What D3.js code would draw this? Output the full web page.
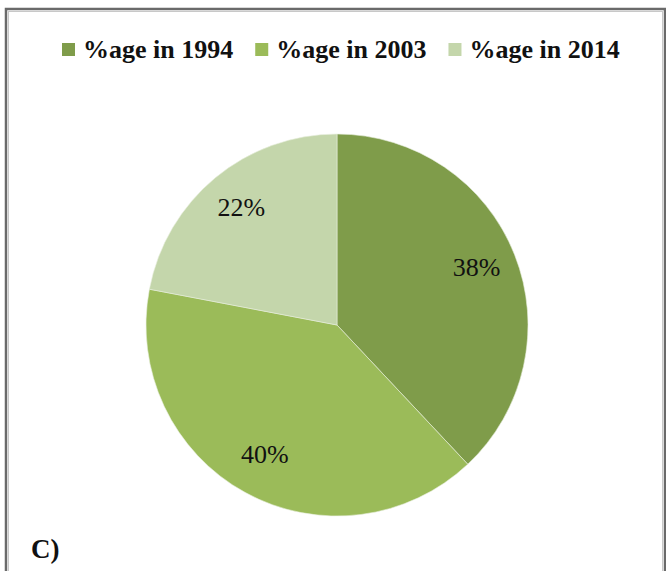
<!DOCTYPE html>
<html>
<head>
<meta charset="utf-8">
<script src="https://cdn.jsdelivr.net/npm/d3@7"></script>
<style>
  body { margin: 0; background: #fff; }
  svg { display: block; }
  svg text { font-family: "Liberation Serif", "Times New Roman", serif; fill: #111; }
</style>
</head>
<body>
<script>
// data
const categories = ["%age in 1994", "%age in 2003", "%age in 2014"];
const values = [38, 40, 22];
const colors = ["#7f9c4a", "#9bbb59", "#c4d6ab"];

const width = 666, height = 571;
const cx = 337, cy = 325, radius = 191;

const svg = d3.select("body")
    .append("svg")
    .attr("width", width)
    .attr("height", height);

// frame around the chart
svg.append("rect")
    .attr("x", 6).attr("y", 9)
    .attr("width", 659).attr("height", 620)
    .attr("fill", "none")
    .attr("stroke", "#6a6a6a")
    .attr("stroke-width", 2.5);
svg.append("rect")
    .attr("x", 8.5).attr("y", 11.5)
    .attr("width", 654).attr("height", 615)
    .attr("fill", "none")
    .attr("stroke", "#c8c8c8")
    .attr("stroke-width", 1);

const pie = d3.pie().sort(null).value(d => d);
const arc = d3.arc().innerRadius(0).outerRadius(radius);
const labelArc = d3.arc().innerRadius(150).outerRadius(150);

const color = d3.scaleOrdinal().domain(categories).range(colors);

const g = svg.append("g")
    .attr("transform", `translate(${cx},${cy})`);

const arcs = pie(values);

g.selectAll("path")
    .data(arcs)
    .join("path")
    .attr("d", arc)
    .attr("fill", (d, i) => color(categories[i]))
    .attr("stroke", "#e8eedd")
    .attr("stroke-width", 0.6);

g.selectAll("text")
    .data(arcs)
    .join("text")
    .attr("transform", d => `translate(${labelArc.centroid(d)})`)
    .attr("text-anchor", "middle")
    .attr("dy", "0.25em")
    .style("font-size", "26px")
    .text(d => d.value + "%");

// legend across the top
const legend = svg.append("g");

let lx = 62;
categories.forEach((c, i) => {
    legend.append("rect")
        .attr("x", lx).attr("y", 43)
        .attr("width", 13).attr("height", 13)
        .attr("fill", color(c));
    const t = legend.append("text")
        .attr("x", lx + 21).attr("y", 58)
        .style("font-weight", "bold")
        .style("font-size", "26px")
        .text(c);
    lx += 21 + t.node().getComputedTextLength() + 22;
});

// panel letter
svg.append("text")
    .attr("x", 31).attr("y", 558)
    .style("font-weight", "bold")
    .style("font-size", "27px")
    .text("C)");
</script>
</body>
</html>
